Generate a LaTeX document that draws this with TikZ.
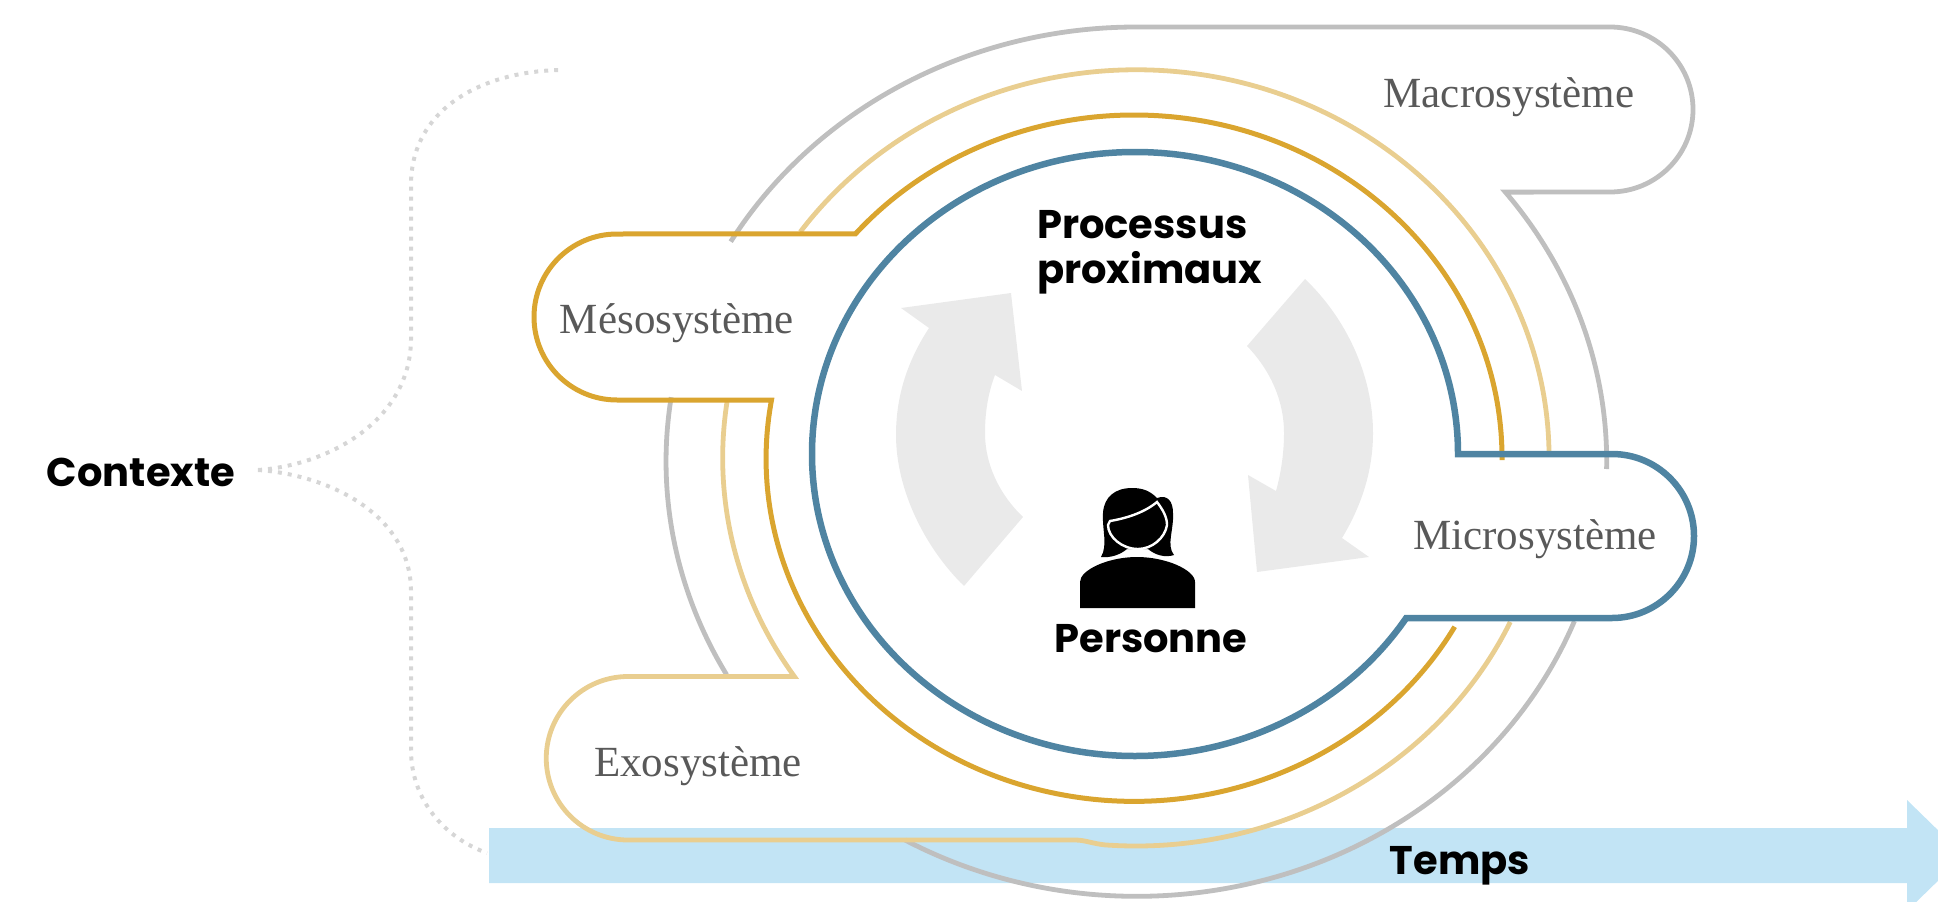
\documentclass[tikz,border=0pt]{standalone}
\usepackage{fontspec}
\setmainfont{Liberation Serif}
\newfontfamily\titrefont{Poppins}
\begin{document}
\begin{tikzpicture}[x=1pt,y=-1pt,
    sys/.style={text=texte,font=\fontsize{43}{50}\selectfont},
    titre/.style={text=black,font=\titrefont\bfseries\fontsize{40}{45}\selectfont},
    micro/.style={draw=bleu,line width=6.5pt,miter limit=10},
    meso/.style={draw=or,line width=5pt},
    exo/.style={draw=orclair,line width=4.8pt},
    macro/.style={draw=gris,line width=4.8pt},
    accolade/.style={draw=point,line width=4pt,dash pattern=on 4pt off 6pt}]
    %couleurs
    \definecolor{bleu}{HTML}{4F84A2}
    \definecolor{or}{HTML}{DAA52F}
    \definecolor{orclair}{HTML}{E9CE90}
    \definecolor{gris}{HTML}{BFBFBF}
    \definecolor{fleche}{HTML}{EAEAEA}
    \definecolor{temps}{HTML}{C2E4F5}
    \definecolor{point}{HTML}{D6D6D6}
    \definecolor{texte}{HTML}{595959}

    \clip (0,0) rectangle (1938,902);

    % Fleche du temps
    \fill[temps] (489,828) -- (1907,828) -- (1907,800) -- (1964,855.5) -- (1907,911) -- (1907,883) -- (489,883) -- cycle;

    % Fleches du processus
    \fill[fleche] (964,586) .. controls (925,548) and (896,490) .. (896,435)
        .. controls (896,395) and (908,360) .. (929,328) -- (901,308) -- (1011,293) -- (1022,391) -- (995,375)
        .. controls (988,393) and (985,413) .. (985,433) .. controls (985,465) and (1000,495) .. (1023,517) -- cycle;
    \fill[fleche] (1305,279) .. controls (1346,318) and (1373,375) .. (1373,433)
        .. controls (1373,470) and (1362,505) .. (1342,538) -- (1369,557) -- (1257,572) -- (1248,475) -- (1276,491)
        .. controls (1281,473) and (1284,453) .. (1284,433) .. controls (1284,400) and (1270,370) .. (1247,346) -- cycle;

    % Macrosysteme
    \draw[macro] (1606.6,469) arc (1:-38.3:470.5 and 434.5) -- (1610,192) arc (90:-90:83 and 82.5) -- (1136.5,27) arc (-90:-149.6:470.5 and 434.5);
    \draw[macro] (671.2,397.2) arc (-171.5:-209.4:470.5 and 434.5);
    \draw[macro] (905,840) arc (-240.5:-338.5:470.5 and 434.5);

    % Exosysteme
    \draw[exo] (1549,451) arc (-1:-144.4:413 and 388);
    \draw[exo] (727,402) arc (-171.7:-214.27:413 and 388) -- (628,676.5) arc (-90:-270:81.75) -- (1075,840)
        .. controls (1085,840) and (1092,843.5) .. (1105,844.9) arc (-265.7:-335:413 and 388);

    % Mesosysteme
    \draw[meso] (1502,460) -- (1502,458) arc (0:-139.2:368 and 343) -- (617,234) arc (-90:-270:83) -- (771.5,400) arc (-170.2:-330.6:368 and 343);

    % Microsysteme
    \draw[micro] (1458,454) arc (0:-327.1:323 and 302) -- (1612,618) arc (90:-90:82) -- cycle;

    % Personne
    \fill[black] (1080,608) -- (1080,582) .. controls (1080,570) and (1108,557) .. (1137,557) .. controls (1166,557) and (1195,570) .. (1195,582) -- (1195,608) -- cycle;
    \fill[black] (1101,557) .. controls (1108,545) and (1102,530) .. (1103,513) .. controls (1104,497) and (1115,488) .. (1132,488)
        .. controls (1143,488) and (1150,491) .. (1157,498) .. controls (1168,494) and (1173,502) .. (1173,513)
        .. controls (1174,530) and (1166,545) .. (1174,555) .. controls (1165,558) and (1155,555) .. (1148,549) -- (1127,549) .. controls (1120,555) and (1110,558) .. (1101,557) -- cycle;
    \filldraw[fill=black,draw=white,line width=2.4pt] (1110,521) .. controls (1128,518) and (1145,512) .. (1157,502)
        .. controls (1163,510) and (1167,517) .. (1167,525) .. controls (1165,538) and (1152,549) .. (1138,549)
        .. controls (1122,549) and (1108,537) .. (1108,525) -- cycle;

    % Accolade du contexte
    \coordinate (acc) at (258,470);
    \coordinate (acchaut) at (559,70);
    \coordinate (accbas) at (487,853);
    \draw[accolade] (acc) .. controls (330,465) and (410,420) .. (411,340) -- (411,185) .. controls (411,110) and (480,72) .. (acchaut);
    \draw[accolade] (acc) .. controls (330,475) and (410,515) .. (411,590) -- (411,750) .. controls (411,800) and (445,838) .. (accbas);

    % Textes
    \node[sys] (macrotxt) at (1509,97) {Macrosystème};
    \node[sys] (mesotxt) at (677,323) {Mésosystème};
    \node[sys] (microtxt) at (1535,539) {Microsystème};
    \node[sys] (exotxt) at (698,766) {Exosystème};
    \node[titre,align=left,anchor=west,inner sep=0pt] (processus) at (1037,252) {Processus\\proximaux};
    \node[titre] (personne) at (1151,639) {Personne};
    \node[titre] (contexte) at (141,472) {Contexte};
    \node[titre] (tempstxt) at (1460,866) {Temps};
\end{tikzpicture}
\end{document}
